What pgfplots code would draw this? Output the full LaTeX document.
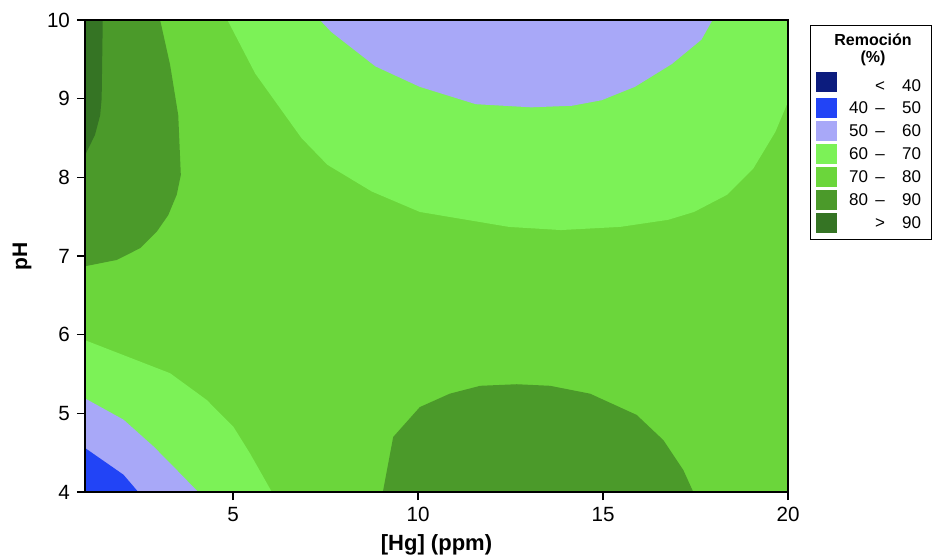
\documentclass[border=0pt]{standalone}
\usepackage{pgfplots}
\pgfplotsset{compat=1.18}
\usepackage{fontspec}
\setmainfont{Liberation Sans}
\definecolor{cA}{HTML}{0C1C7E}
\definecolor{cB}{HTML}{2244F6}
\definecolor{cC}{HTML}{A8A8F8}
\definecolor{cD}{HTML}{7CF257}
\definecolor{cE}{HTML}{6BD63B}
\definecolor{cF}{HTML}{4B9A2A}
\definecolor{cG}{HTML}{357424}
\newcommand{\lent}[3]{\rule[-2pt]{0pt}{9pt}\makebox[12.5pt][r]{#1}\makebox[12pt][c]{#2}\makebox[14.5pt][r]{#3}}
\pgfplotsset{sw/.style={legend image code/.code={\fill[#1] (1pt,-4.75pt) rectangle (11pt,4.75pt);}},
  noimg/.style={legend image code/.code={}}}
\begin{document}
\begin{tikzpicture}
\path[use as bounding box] (-42.5pt,-33pt) rectangle (425pt,246pt);
\begin{axis}[
  at={(0,0)}, anchor=south west,
  scale only axis, width=351.5pt, height=236pt,
  xmin=1, xmax=20, ymin=4, ymax=10,
  axis on top,
  xtick={5,10,15,20}, ytick={4,5,6,7,8,9,10},
  tick pos=left, tick align=outside, major tick length=4pt,
  tick style={black, line width=0.6pt},
  axis line style={line width=0.7pt},
  /pgf/number format/assume math mode=true,
  ticklabel style={font=\fontsize{10.3}{12}\selectfont},
  xlabel={[Hg] (ppm)}, ylabel={pH},
  xlabel style={font=\fontsize{11}{13}\selectfont\bfseries, at={(axis description cs:0.5,0)}, anchor=center, yshift=-26.5pt},
  ylabel style={font=\fontsize{10.5}{12}\selectfont\bfseries, at={(axis description cs:-0.0896,0.5)}, anchor=center},
  legend style={at={(axis description cs:1,1)}, anchor=north west, xshift=11pt, yshift=-2.5pt,
    draw=black, line width=0.5pt, font=\fontsize{8.5}{10}\selectfont,
    inner xsep=2pt, inner ysep=3pt, row sep=1.5pt,
    nodes={inner xsep=3pt, inner ysep=0.5pt}},
  legend cell align=left,
]
% background 70-80
\addplot[fill=cE, draw=none, forget plot] coordinates {(1,4)(20,4)(20,10)(1,10)};
% top 60-70 band
\addplot[fill=cD, draw=none, forget plot] coordinates {(4.85,10)(5.60,9.32)(6.85,8.50)(7.55,8.16)(8.75,7.82)(10.05,7.56)(12.46,7.37)(13.86,7.33)(15.46,7.37)(16.76,7.46)(17.46,7.56)(18.36,7.78)(19.06,8.11)(19.66,8.58)(20,8.96)(20,10)};
% top 50-60
\addplot[fill=cC, draw=none, forget plot] coordinates {(7.35,10)(7.65,9.85)(8.85,9.41)(10.05,9.15)(11.56,8.93)(13.06,8.89)(14.16,8.91)(14.96,8.98)(15.86,9.15)(16.86,9.44)(17.66,9.75)(17.96,10)};
% top-left 80-90
\addplot[fill=cF, draw=none, forget plot] coordinates {(1,10)(3.03,10)(3.30,9.43)(3.52,8.79)(3.59,8.03)(3.48,7.78)(3.25,7.52)(2.94,7.31)(2.49,7.10)(1.86,6.95)(1,6.87)};
% >90
\addplot[fill=cG, draw=none, forget plot] coordinates {(1,10)(1.48,10)(1.45,9.0)(1.41,8.79)(1.27,8.54)(1,8.28)};
% bottom-left 60-70
\addplot[fill=cD, draw=none, forget plot] coordinates {(1,4)(1,5.93)(2.04,5.74)(3.30,5.51)(4.29,5.17)(5.01,4.83)(5.46,4.49)(6.05,4)};
% bottom-left 50-60
\addplot[fill=cC, draw=none, forget plot] coordinates {(1,4)(1,5.19)(2.04,4.92)(2.85,4.58)(3.48,4.28)(4.06,4)};
% bottom-left 40-50
\addplot[fill=cB, draw=none, forget plot] coordinates {(1,4)(1,4.56)(2.04,4.22)(2.44,4)};
% bottom 80-90
\addplot[fill=cF, draw=none, forget plot] coordinates {(9.05,4)(9.33,4.70)(10.05,5.08)(10.86,5.25)(11.68,5.35)(12.67,5.37)(13.57,5.35)(14.65,5.25)(15.91,4.98)(16.63,4.66)(17.17,4.28)(17.44,4)};
% legend
\addlegendimage{noimg}
\addlegendentry{\makebox[39pt][l]{\hspace*{-15pt}\makebox[60pt][c]{\fontsize{8}{9}\selectfont\bfseries\begin{tabular}[b]{@{}c@{}}Remoción\\[-0.5pt](\%)\end{tabular}}}}
\addlegendimage{sw=cA}\addlegendentry{\rule{0pt}{10.5pt}\lent{}{<}{40}}
\addlegendimage{sw=cB}\addlegendentry{\lent{40}{--}{50}}
\addlegendimage{sw=cC}\addlegendentry{\lent{50}{--}{60}}
\addlegendimage{sw=cD}\addlegendentry{\lent{60}{--}{70}}
\addlegendimage{sw=cE}\addlegendentry{\lent{70}{--}{80}}
\addlegendimage{sw=cF}\addlegendentry{\lent{80}{--}{90}}
\addlegendimage{sw=cG}\addlegendentry{\lent{}{>}{90}}
\end{axis}
\end{tikzpicture}
\end{document}
